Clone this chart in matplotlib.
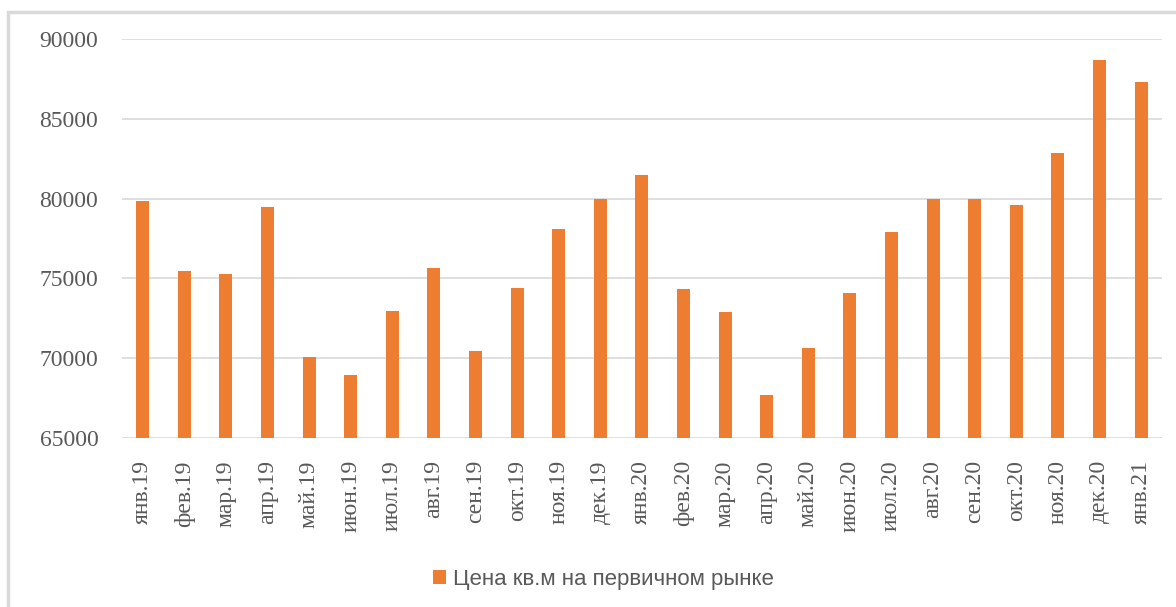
import matplotlib.pyplot as plt
from matplotlib.patches import Rectangle

# Месяцы и цена квадратного метра
months = ['янв.19', 'фев.19', 'мар.19', 'апр.19', 'май.19', 'июн.19', 'июл.19',
          'авг.19', 'сен.19', 'окт.19', 'ноя.19', 'дек.19', 'янв.20', 'фев.20',
          'мар.20', 'апр.20', 'май.20', 'июн.20', 'июл.20', 'авг.20', 'сен.20',
          'окт.20', 'ноя.20', 'дек.20', 'янв.21']
prices = [79850, 75460, 75280, 79470, 70080, 68950, 72960, 75650, 70450, 74400,
          78100, 79970, 81480, 74340, 72890, 67690, 70640, 74090, 77910, 79970,
          79970, 79600, 82860, 88680, 87300]
yticks = [65000, 70000, 75000, 80000, 85000, 90000]

fig = plt.figure(figsize=(11.76, 6.07), dpi=100)
ax = fig.add_axes([0.1037, 0.2784, 0.8843, 0.6573])

# Рамка вокруг диаграммы
fig.patches.append(Rectangle((8 / 1176, -0.1), 1.2, 1.1 - 12 / 607,
                             transform=fig.transFigure, fill=False,
                             edgecolor='#D9D9D9', linewidth=2.5))

x = range(len(months))
ax.bar(x, prices, width=0.31, color='#ED7D31', label='Цена кв.м на первичном рынке',
       zorder=3)

ax.set_xlim(-0.5, len(months) - 0.5)
ax.set_ylim(65000, 90000)
ax.set_yticks(yticks)
ax.set_yticklabels([str(v) for v in yticks], fontfamily='Liberation Serif',
                   fontsize=17, color='#595959')
ax.set_xticks(list(x))
ax.set_xticklabels(months, rotation=90, fontfamily='Liberation Serif',
                   fontsize=17, color='#595959', va='top', ha='center')
ax.tick_params(length=0)
ax.tick_params(axis='y', pad=17)
ax.tick_params(axis='x', pad=16)
ax.grid(axis='y', color='#D9D9D9', linewidth=1.2, zorder=0)
for s in ax.spines.values():
    s.set_visible(False)

fig.legend(loc='center', bbox_to_anchor=(0.513, 1 - 579 / 607), frameon=False,
           prop={'family': 'Liberation Sans', 'size': 16}, labelcolor='#595959',
           handlelength=0.6, handleheight=0.6, handletextpad=0.3)

fig.savefig('out.png', dpi=100)
